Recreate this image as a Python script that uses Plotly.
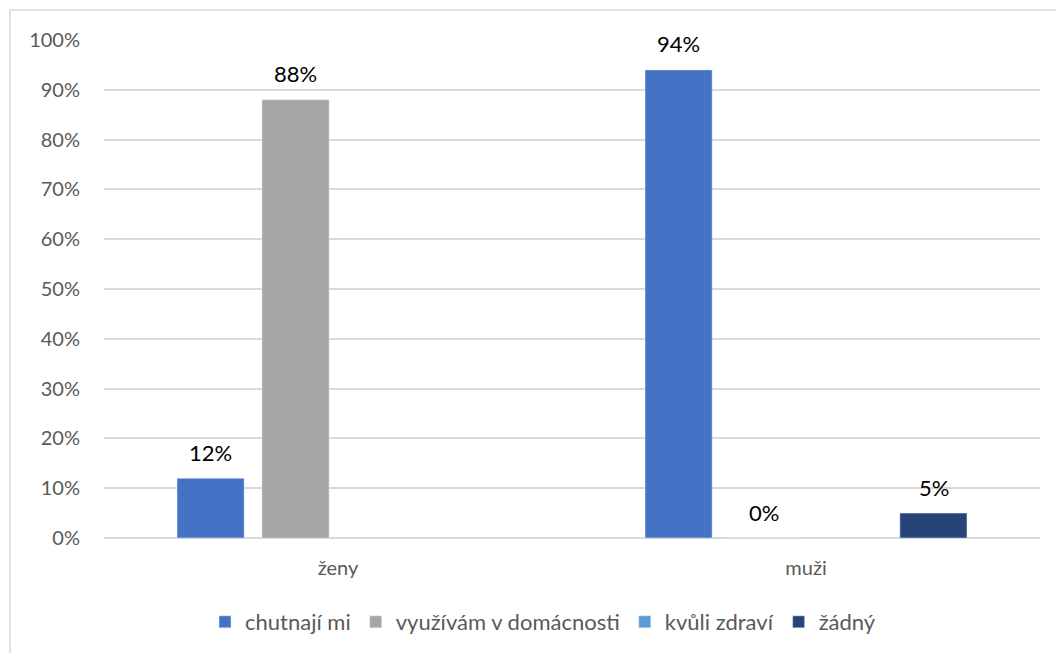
import plotly.graph_objects as go

categories = ["ženy", "muži"]
series_names = ["chutnají mi", "využívám v domácnosti", "kvůli zdraví", "žádný"]
chutnaji_mi = [0.12, 0.94]
vyuzivam = [0.88, 0.0]
kvuli_zdravi = [None, None]
zadny = [None, 0.05]
colors = ["#4472C4", "#A5A5A5", "#5B9BD5", "#264478"]

values = [chutnaji_mi, vyuzivam, kvuli_zdravi, zadny]

W, H = 1056, 653
L, R, T, B = 104, 16, 40, 115
pw = W - L - R
ph = H - T - B
slot_px = 85

def px_x(p):
    return (p - L) / pw

def px_y(p):
    return (H - B - p) / ph

fig = go.Figure()
annotations = []
n = len(series_names)
for i, (name, vals, col) in enumerate(zip(series_names, values, colors)):
    fig.add_trace(go.Bar(x=categories, y=vals, name=name, marker_color=col))
    for c, v in zip(categories, vals):
        if v is None:
            continue
        annotations.append(dict(
            x=c, y=v, xref="x", yref="y", text=f"{v:.0%}", showarrow=False,
            xshift=(i - (n - 1) / 2) * slot_px, yshift=26, yanchor="middle",
            font=dict(size=22, color="#000000"),
        ))

fig.update_layout(
    width=W, height=H,
    margin=dict(l=L, r=R, t=T, b=B, autoexpand=False),
    paper_bgcolor="white", plot_bgcolor="white",
    font=dict(family="Lato, Open Sans, sans-serif", color="#595959", size=20),
    barmode="group", bargap=0.274, bargroupgap=0.21,
    showlegend=True,
    legend=dict(orientation="h", x=px_x(543), xanchor="center", y=px_y(622), yanchor="middle",
                font=dict(size=22, color="#595959"), itemwidth=30, traceorder="normal"),
    xaxis=dict(showgrid=False, showline=False, ticks="", ticklabelstandoff=16,
               tickfont=dict(size=20, color="#595959"), automargin=False),
    yaxis=dict(range=[0, 1], dtick=0.1, tickformat=".0%", showgrid=True, gridcolor="#D9D9D9",
               gridwidth=1.5, zeroline=True, zerolinecolor="#D9D9D9", zerolinewidth=1.5,
               showline=False, ticks="", ticklabelstandoff=23, automargin=False,
               tickfont=dict(size=20, color="#595959")),
    annotations=annotations,
    shapes=[dict(type="rect", xref="paper", yref="paper",
                 x0=px_x(10), x1=px_x(1070), y0=px_y(670), y1=px_y(10),
                 line=dict(color="#D9D9D9", width=1.5), fillcolor="rgba(0,0,0,0)", layer="below")],
)

fig.write_html("out.html")
